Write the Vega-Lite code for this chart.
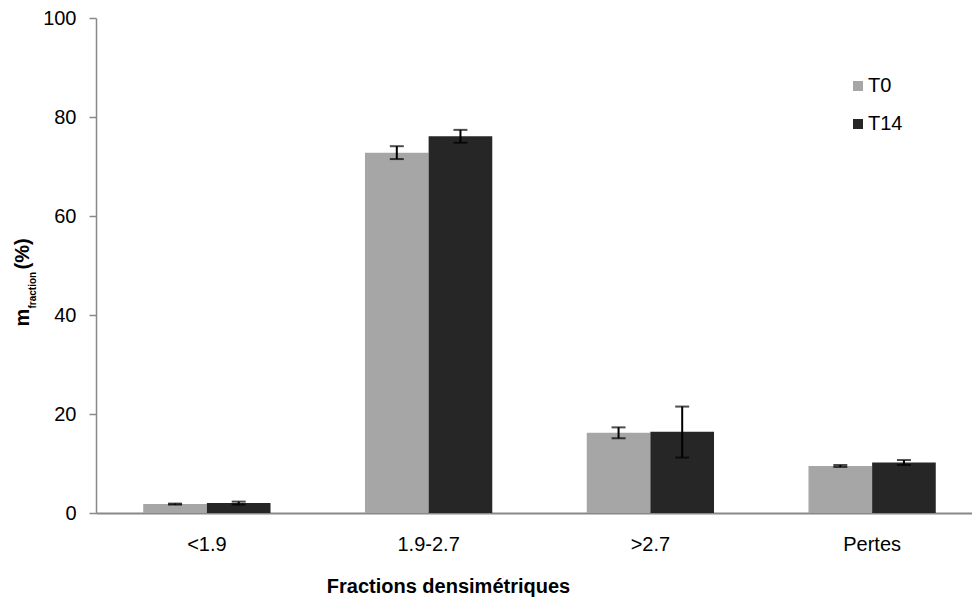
{
  "$schema": "https://vega.github.io/schema/vega-lite/v6.json",
  "width": 876,
  "height": 495,
  "autosize": {"type": "none"},
  "padding": {"left": 96, "top": 18, "right": 0, "bottom": 91},
  "background": "white",
  "config": {"font": "Liberation Sans", "view": {"stroke": null}},
  "data": {
    "values": [
      {"cat": "<1.9", "series": "T0", "value": 1.8, "lo": 1.7, "hi": 1.9},
      {"cat": "<1.9", "series": "T14", "value": 2.0, "lo": 1.7, "hi": 2.3},
      {"cat": "1.9-2.7", "series": "T0", "value": 72.8, "lo": 71.5, "hi": 74.1},
      {"cat": "1.9-2.7", "series": "T14", "value": 76.1, "lo": 74.8, "hi": 77.4},
      {"cat": ">2.7", "series": "T0", "value": 16.2, "lo": 15.1, "hi": 17.3},
      {"cat": ">2.7", "series": "T14", "value": 16.4, "lo": 11.2, "hi": 21.5},
      {"cat": "Pertes", "series": "T0", "value": 9.5, "lo": 9.3, "hi": 9.7},
      {"cat": "Pertes", "series": "T14", "value": 10.2, "lo": 9.7, "hi": 10.7}
    ]
  },
  "encoding": {
    "x": {
      "field": "cat",
      "type": "nominal",
      "sort": ["<1.9", "1.9-2.7", ">2.7", "Pertes"],
      "scale": {"range": [0, 887], "paddingInner": 0.426, "paddingOuter": 0.213},
      "axis": {
        "title": "Fractions densimétriques",
        "titleFontSize": 20,
        "titleFontWeight": "bold",
        "titleColor": "#000",
        "titleX": 352,
        "titleY": 79,
        "titleAlign": "center",
        "titleBaseline": "alphabetic",
        "labelFontSize": 20,
        "labelAngle": 0,
        "labelColor": "#000",
        "labelPadding": 37,
        "labelBaseline": "alphabetic",
        "ticks": false,
        "tickSize": 0,
        "domainColor": "#888888",
        "domainWidth": 2
      }
    },
    "xOffset": {
      "field": "series",
      "type": "nominal",
      "sort": ["T0", "T14"],
      "scale": {"paddingInner": 0, "paddingOuter": 0}
    }
  },
  "layer": [
    {
      "mark": {"type": "bar"},
      "encoding": {
        "y": {
          "field": "value",
          "type": "quantitative",
          "scale": {"domain": [0, 100], "nice": false},
          "axis": {
            "orient": "left",
            "title": "m",
            "titleFontSize": 20,
            "titleFontWeight": "bold",
            "titleColor": "#000",
            "titleAngle": -90,
            "titleX": -68,
            "titleY": 308,
            "titleAlign": "left",
            "titleBaseline": "alphabetic",
            "values": [0, 20, 40, 60, 80, 100],
            "labelFontSize": 20,
            "labelColor": "#000",
            "labelPadding": 13,
            "tickSize": 7,
            "tickColor": "#888888",
            "tickWidth": 1.5,
            "domainColor": "#888888",
            "domainWidth": 1.5,
            "grid": false
          }
        },
        "color": {
          "field": "series",
          "type": "nominal",
          "scale": {"domain": ["T0", "T14"], "range": ["#a6a6a6", "#262626"]},
          "legend": {
            "title": null,
            "orient": "none",
            "legendX": 752,
            "legendY": 58,
            "symbolType": "square",
            "symbolSize": 100,
            "symbolStrokeWidth": 0,
            "labelFontSize": 20,
            "labelColor": "#000",
            "labelOffset": 0,
            "rowPadding": 18
          }
        }
      }
    },
    {
      "mark": {"type": "rule", "color": "black", "strokeWidth": 2},
      "encoding": {
        "y": {
          "field": "lo",
          "type": "quantitative",
          "axis": {
            "orient": "left",
            "title": "fraction",
            "titleFontSize": 10,
            "titleFontWeight": "bold",
            "titleColor": "#000",
            "titleAngle": -90,
            "titleX": -61,
            "titleY": 290,
            "titleAlign": "left",
            "titleBaseline": "alphabetic",
            "labels": false,
            "ticks": false,
            "domain": false,
            "grid": false
          }
        },
        "y2": {"field": "hi"}
      }
    },
    {
      "mark": {"type": "tick", "color": "black", "size": 14, "thickness": 2},
      "encoding": {
        "y": {
          "field": "lo",
          "type": "quantitative",
          "axis": {
            "orient": "left",
            "title": "(%)",
            "titleFontSize": 20,
            "titleFontWeight": "bold",
            "titleColor": "#000",
            "titleAngle": -90,
            "titleX": -68,
            "titleY": 251,
            "titleAlign": "left",
            "titleBaseline": "alphabetic",
            "labels": false,
            "ticks": false,
            "domain": false,
            "grid": false
          }
        }
      }
    },
    {
      "mark": {"type": "tick", "color": "black", "size": 14, "thickness": 2},
      "encoding": {
        "y": {"field": "hi", "type": "quantitative", "axis": null}
      }
    }
  ],
  "resolve": {"axis": {"y": "independent"}}
}
